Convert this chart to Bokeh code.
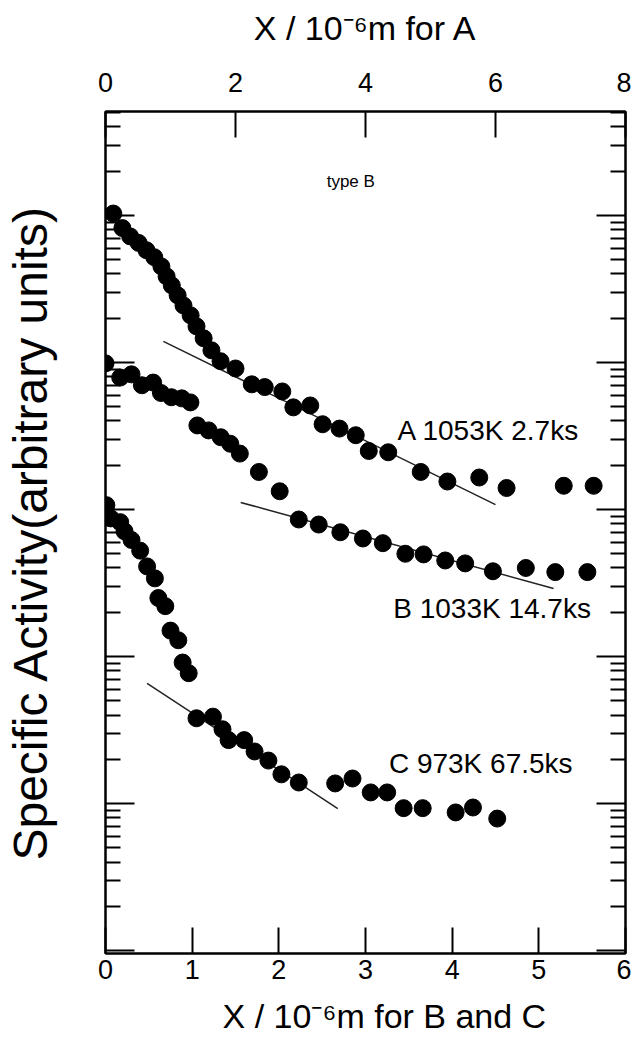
from bokeh.plotting import figure
from bokeh.models import (Range1d, LinearAxis, LogAxis, FixedTicker, Label,
                          CustomJSTickFormatter)
from bokeh.embed import file_html
from bokeh.resources import INLINE

# ---- data -------------------------------------------------------------
# depth profiles; A uses the top axis (0-8), B and C the bottom axis (0-6)
a_x = [0.12, 0.26, 0.38, 0.51, 0.63, 0.75, 0.86, 0.94, 1.02, 1.11, 1.20,
       1.31, 1.40, 1.51, 1.63, 1.77, 2.00, 2.25, 2.45, 2.72, 2.89, 3.15,
       3.34, 3.60, 3.85, 4.05, 4.35, 4.85, 5.26, 5.75, 6.17, 7.05, 7.51]
a_y = [103000, 82000, 72000, 65000, 58000, 52000, 45000, 38500, 33400,
       28600, 24400, 20900, 17600, 14600, 12100, 10200, 9100, 7100, 6800,
       6350, 4950, 5100, 3800, 3550, 3200, 2500, 2450, 1800, 1550, 1650,
       1400, 1450, 1450]

b_x = [0.00, 0.17, 0.30, 0.42, 0.55, 0.64, 0.76, 0.88, 0.98, 1.06, 1.19,
       1.33, 1.44, 1.55, 1.77, 2.01, 2.23, 2.46, 2.71, 2.97, 3.20, 3.46,
       3.67, 3.92, 4.15, 4.47, 4.85, 5.19, 5.56]
b_y = [9860, 7900, 8300, 7000, 7300, 6200, 5800, 5700, 5350, 3730, 3450,
       3100, 2800, 2400, 1800, 1330, 855, 790, 700, 635, 590, 500, 495,
       450, 430, 380, 400, 375, 375]

c_x = [0.01, 0.06, 0.17, 0.22, 0.30, 0.40, 0.48, 0.57, 0.61, 0.69, 0.75,
       0.84, 0.89, 0.96, 1.05, 1.24, 1.35, 1.42, 1.60, 1.72, 1.88, 2.03,
       2.23, 2.65, 2.85, 3.06, 3.25, 3.44, 3.66, 4.04, 4.24, 4.52]
c_y = [1070, 870, 820, 710, 620, 525, 410, 340, 250, 220, 150, 129, 91,
       77, 38, 39, 32, 27, 27, 22.6, 19.6, 15.8, 13.9, 13.7, 14.8, 11.9,
       11.9, 9.3, 9.3, 8.7, 9.4, 7.9]

# straight-line fits of the tail regions
a_fit_x = [0.89, 6.0]
a_fit_y = [13900, 1080]
b_fit_x = [1.56, 5.17]
b_fit_y = [1117, 290]
c_fit_x = [0.48, 2.68]
c_fit_y = [65.6, 9.25]

bottom_ticks = [0, 1, 2, 3, 4, 5, 6]
top_ticks = [0, 2, 4, 6, 8]
decades = [1, 10, 100, 1000, 10000, 100000]

FONT = "Liberation Sans"
NBSP = "\u00a0"

# ---- figure -------------------------------------------------------------
p = figure(width=631, height=1043, x_range=Range1d(0, 6),
           y_range=Range1d(10 ** -0.02, 10 ** 5.707), y_axis_type="log",
           output_backend="svg", toolbar_location=None,
           min_border_left=105, min_border_right=6,
           min_border_top=111, min_border_bottom=90)
p.extra_x_ranges = {"a": Range1d(0, 8)}
p.grid.visible = False
p.outline_line_color = "black"
p.outline_line_width = 2
p.background_fill_color = "white"
p.border_fill_color = "white"

minor = [k * d for d in [0.1] + decades for k in range(2, 10)]
log_ticker = FixedTicker(ticks=decades, minor_ticks=minor)
blank = CustomJSTickFormatter(code="return ''")


def style_log_axis(ax):
    ax.ticker = log_ticker
    ax.formatter = blank
    ax.major_label_text_font_size = "0px"
    ax.major_label_standoff = 0
    ax.major_tick_in = 29
    ax.major_tick_out = 0
    ax.minor_tick_in = 15
    ax.minor_tick_out = 0
    ax.major_tick_line_width = 2
    ax.minor_tick_line_width = 2
    ax.axis_line_width = 2


def style_lin_axis(ax, ticks, standoff, title, title_standoff):
    ax.ticker = FixedTicker(ticks=ticks)
    ax.major_tick_in = 26
    ax.major_tick_out = 0
    ax.minor_tick_line_color = None
    ax.major_tick_line_width = 2
    ax.axis_line_width = 2
    ax.major_label_text_font = FONT
    ax.major_label_text_font_size = "27px"
    ax.major_label_text_color = "black"
    ax.major_label_standoff = standoff
    ax.axis_label = title
    ax.axis_label_text_font = FONT
    ax.axis_label_text_font_style = "normal"
    ax.axis_label_text_font_size = "34px"
    ax.axis_label_text_color = "black"
    ax.axis_label_standoff = title_standoff


left = p.left[0]
style_log_axis(left)
left.axis_label = "Specific Activity(arbitrary units)"
left.axis_label_text_font = FONT
left.axis_label_text_font_style = "normal"
left.axis_label_text_font_size = "48px"
left.axis_label_text_color = "black"
left.axis_label_standoff = 49

right = LogAxis()
style_log_axis(right)
p.add_layout(right, "right")

bottom = p.below[0]
style_lin_axis(bottom, bottom_ticks, 6,
               NBSP * 4 + "X / 10\u207b\u2076m for B and C", 15)

top = LinearAxis(x_range_name="a")
style_lin_axis(top, top_ticks, 20, "X / 10\u207b\u2076m for A", 23)
p.add_layout(top, "above")

# ---- fits and points ----------------------------------------------------
line_kw = dict(line_color="#222222", line_width=1.5)
p.line(a_fit_x, a_fit_y, x_range_name="a", **line_kw)
p.line(b_fit_x, b_fit_y, **line_kw)
p.line(c_fit_x, c_fit_y, **line_kw)

dot_kw = dict(marker="circle", size=17, fill_color="black", line_color="black")
p.scatter(a_x, a_y, x_range_name="a", **dot_kw)
p.scatter(b_x, b_y, **dot_kw)
p.scatter(c_x, c_y, **dot_kw)

# ---- text ----------------------------------------------------------------
def add_text(x, y, txt, size, align="left"):
    p.add_layout(Label(x=x, y=y, text=txt, text_font=FONT,
                       text_font_size=size, text_align=align,
                       text_baseline="middle", text_color="black"))


add_text(2.83, 1.7e5, "type B", "17px", align="center")
add_text(3.37, 3450, "A 1053K 2.7ks", "28px")
add_text(3.32, 212, "B 1033K 14.7ks", "28px")
add_text(3.27, 18.7, "C 973K 67.5ks", "28px")

open("out.html", "w").write(file_html(p, INLINE))
